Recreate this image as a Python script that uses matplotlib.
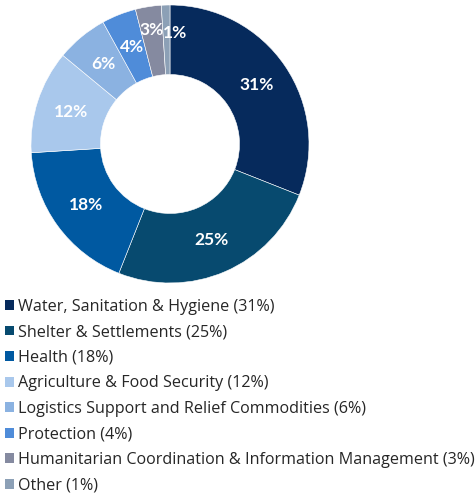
import matplotlib.pyplot as plt
from matplotlib.patches import Patch
import numpy as np

plt.rcParams['font.family'] = ['Lato', 'DejaVu Sans']

sectors = ['Water, Sanitation & Hygiene', 'Shelter & Settlements', 'Health',
           'Agriculture & Food Security', 'Logistics Support and Relief Commodities',
           'Protection', 'Humanitarian Coordination & Information Management', 'Other']
shares = [31, 25, 18, 12, 6, 4, 3, 1]
colors = ['#062a5c', '#074a6f', '#0059a1', '#a9c8ec', '#8bb2e1',
          '#4f8cd9', '#858aa0', '#8ca0b6']

W, H = 477, 493
fig = plt.figure(figsize=(W / 100, H / 100), dpi=100)
cx, cy, r = 170, 144, 139
ax = fig.add_axes([(cx - r) / W, 1 - (cy + r) / H, 2 * r / W, 2 * r / H])

wedges, _ = ax.pie(shares, colors=colors, startangle=90, counterclock=False,
                   radius=1, wedgeprops=dict(width=0.5, edgecolor='white', linewidth=0.4))
ax.set_xlim(-1, 1)
ax.set_ylim(-1, 1)
ax.set_aspect('equal')
ax.axis('off')

# label placement: small slices nudged so they fit
dist = [0.75, 0.75, 0.75, 0.75, 0.75, 0.75, 0.83, 0.80]
shift = [0, 0, 0, 0, 0, 0, 0, -4.4]
for w, v, d, s in zip(wedges, shares, dist, shift):
    ang = np.deg2rad((w.theta1 + w.theta2) / 2 + s)
    ax.text(d * np.cos(ang), d * np.sin(ang), f'{v}%', color='white',
            fontsize=12.5, fontweight='bold', ha='center', va='center')

handles = [Patch(facecolor=c, edgecolor='none') for c in colors]
labels = [f'{n} ({v}%)' for n, v in zip(sectors, shares)]
fig.legend(handles, labels, loc='upper left', bbox_to_anchor=(0.0, 1 - 294 / H),
           frameon=False, handlelength=0.55, handleheight=0.55,
           handletextpad=0.25, labelspacing=0.59, borderaxespad=0, borderpad=0.3,
           labelcolor='#262626', prop={'family': ['Open Sans', 'DejaVu Sans'], 'size': 11.6})

fig.savefig('out.png', dpi=100)
